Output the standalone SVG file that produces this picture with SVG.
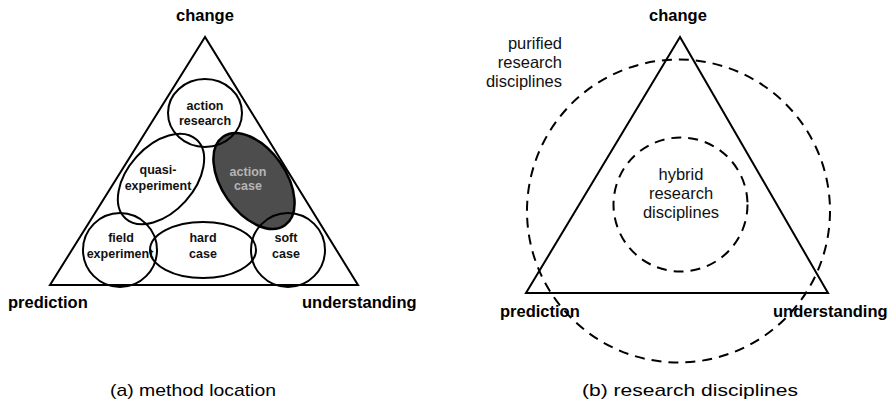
<svg xmlns="http://www.w3.org/2000/svg" width="892" height="405" viewBox="0 0 892 405">
<style>
.tri{fill:none;stroke:#000;stroke-width:2;stroke-linejoin:miter}
.ell{fill:none;stroke:#000;stroke-width:2}
.dash{fill:none;stroke:#000;stroke-width:2;stroke-dasharray:10 7}
.corner{font-family:"Liberation Sans",Arial,sans-serif;font-weight:bold;font-size:16.5px;fill:#000}
.inner{font-family:"Liberation Sans",Arial,sans-serif;font-weight:bold;font-size:12.5px;fill:#111;text-anchor:middle}
.reg{font-family:"Liberation Sans",Arial,sans-serif;font-size:16.5px;fill:#111}
.cap{font-family:"Liberation Sans",Arial,sans-serif;font-size:17px;fill:#000;text-anchor:middle}
</style>
<rect width="892" height="405" fill="#fff"/>

<g id="panel-a">
  <g id="triangle-a">
    <polygon class="tri" points="205,37 50,285 358,285"/>
    <text class="corner" x="205" y="21" text-anchor="middle">change</text>
    <text class="corner" x="8" y="308">prediction</text>
    <text class="corner" x="302" y="308">understanding</text>
  </g>
  <g id="action-case">
    <ellipse cx="254" cy="181" rx="54" ry="32" transform="rotate(55 254 181)" fill="#4d4d4d" stroke="#000" stroke-width="2.5"/>
    <text class="inner" x="248" y="176" style="fill:#b5b5b5">action</text>
    <text class="inner" x="248" y="190" style="fill:#b5b5b5">case</text>
  </g>
  <g id="action-research">
    <ellipse class="ell" cx="205" cy="113" rx="37" ry="34"/>
    <text class="inner" x="205" y="110">action</text>
    <text class="inner" x="205" y="125">research</text>
  </g>
  <g id="quasi-experiment">
    <ellipse class="ell" cx="161" cy="179" rx="53" ry="33" transform="rotate(-48 161 179)"/>
    <text class="inner" x="158" y="174">quasi-</text>
    <text class="inner" x="158" y="190">experiment</text>
  </g>
  <g id="field-experiment">
    <ellipse class="ell" cx="120" cy="250" rx="37" ry="37"/>
    <text class="inner" x="121" y="242">field</text>
    <text class="inner" x="120" y="258">experiment</text>
  </g>
  <g id="hard-case">
    <ellipse class="ell" cx="203" cy="250" rx="53" ry="28"/>
    <text class="inner" x="203" y="242">hard</text>
    <text class="inner" x="203" y="258">case</text>
  </g>
  <g id="soft-case">
    <ellipse class="ell" cx="288" cy="250" rx="37" ry="37"/>
    <text class="inner" x="286" y="242">soft</text>
    <text class="inner" x="286" y="258">case</text>
  </g>
  <text class="cap" x="193" y="396" textLength="166" lengthAdjust="spacingAndGlyphs">(a) method location</text>
</g>

<g id="panel-b">
  <g id="triangle-b">
    <polygon class="tri" points="680,37 526,293 828,293"/>
    <text class="corner" x="678" y="21" text-anchor="middle">change</text>
    <text class="corner" x="500" y="317">prediction</text>
    <text class="corner" x="773" y="317">understanding</text>
  </g>
  <g id="purified">
    <circle class="dash" cx="678.5" cy="211" r="151.5"/>
    <text class="reg" x="562" y="49" text-anchor="end">purified</text>
    <text class="reg" x="562" y="68" text-anchor="end">research</text>
    <text class="reg" x="562" y="87" text-anchor="end">disciplines</text>
  </g>
  <g id="hybrid">
    <circle class="dash" cx="680.5" cy="204.5" r="67"/>
    <text class="reg" x="681" y="180" text-anchor="middle">hybrid</text>
    <text class="reg" x="681" y="199" text-anchor="middle">research</text>
    <text class="reg" x="681" y="218" text-anchor="middle">disciplines</text>
  </g>
  <text class="cap" x="690" y="396" textLength="216" lengthAdjust="spacingAndGlyphs">(b) research disciplines</text>
</g>
</svg>
